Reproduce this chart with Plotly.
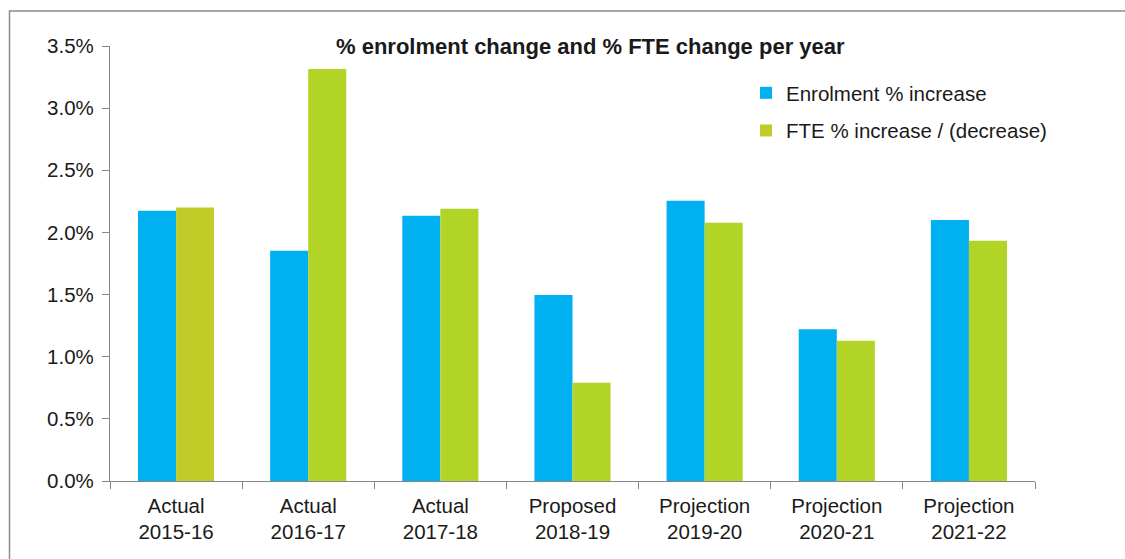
import plotly.graph_objects as go

# Category labels (period type + fiscal year)
periods = ["Actual", "Actual", "Actual", "Proposed", "Projection", "Projection", "Projection"]
years = ["2015-16", "2016-17", "2017-18", "2018-19", "2019-20", "2020-21", "2021-22"]

# Annual percentage changes (as fractions)
enrolment_pct = [0.02175, 0.01853, 0.02134, 0.01496, 0.02255, 0.01220, 0.02100]
fte_pct = [0.02200, 0.03315, 0.02190, 0.00790, 0.02078, 0.01129, 0.01933]

categories = [f"{p}<br>{y}" for p, y in zip(periods, years)]

BLUE = "#00B0F0"
GREEN = "#B1D427"
GREEN_FIRST = "#C2CC29"
AXIS = "#868686"
TEXT = "#1a1a1a"
FONT = "Liberation Sans, Arial, sans-serif"

W, H = 1125, 559
ML, MR, MT, MB = 110, 90, 46, 78
PW, PH = W - ML - MR, H - MT - MB

fig = go.Figure()
fig.add_trace(go.Bar(
    x=categories, y=enrolment_pct, name="Enrolment % increase",
    marker=dict(color=BLUE, line=dict(width=0)), legendgroup="a",
))
fig.add_trace(go.Bar(
    x=categories, y=fte_pct, name="FTE % increase / (decrease)",
    marker=dict(color=[GREEN_FIRST] + [GREEN] * (len(fte_pct) - 1), line=dict(width=0)),
    legendgroup="b",
))


def px_x(px):
    return (px - ML) / PW


def px_y(py):
    return (H - MB - py) / PH


# Outer frame: left and top edges
frame_path = (
    f"M {px_x(9.5)},{px_y(H)} L {px_x(9.5)},{px_y(11)} L {px_x(W)},{px_y(11)}"
)

fig.update_layout(
    width=W, height=H,
    margin=dict(l=ML, r=MR, t=MT, b=MB, pad=0),
    paper_bgcolor="white", plot_bgcolor="white",
    font=dict(family=FONT, size=20.5, color=TEXT),
    barmode="group", bargap=0.424, bargroupgap=0,
    showlegend=True,
    legend=dict(
        x=px_x(746), y=px_y(73), xanchor="left", yanchor="top",
        bgcolor="rgba(0,0,0,0)", font=dict(size=20.5, color=TEXT),
        traceorder="grouped", tracegroupgap=8, itemwidth=30,
    ),
    xaxis=dict(
        showline=True, linecolor=AXIS, linewidth=1.2,
        ticks="outside", tickson="boundaries", ticklen=7, tickcolor=AXIS, tickwidth=1.2,
        showgrid=False, tickfont=dict(size=20.5, color=TEXT), ticklabelstandoff=6,
    ),
    yaxis=dict(
        range=[0, 0.035], dtick=0.005, tickformat=".1%",
        showline=True, linecolor=AXIS, linewidth=1.2,
        ticks="outside", ticklen=7, tickcolor=AXIS, tickwidth=1.2,
        showgrid=False, zeroline=False, tickfont=dict(size=20.5, color=TEXT),
        ticklabelstandoff=4,
    ),
    shapes=[dict(
        type="path", xref="paper", yref="paper", path=frame_path,
        line=dict(color="#8a8a8a", width=1.5),
    )],
    annotations=[dict(
        text="<b>% enrolment change and % FTE change per year</b>",
        xref="paper", yref="paper", x=px_x(590), y=px_y(46),
        xanchor="center", yanchor="middle", showarrow=False,
        font=dict(size=22, color=TEXT, family=FONT),
    )],
)

fig.write_html("out.html")
